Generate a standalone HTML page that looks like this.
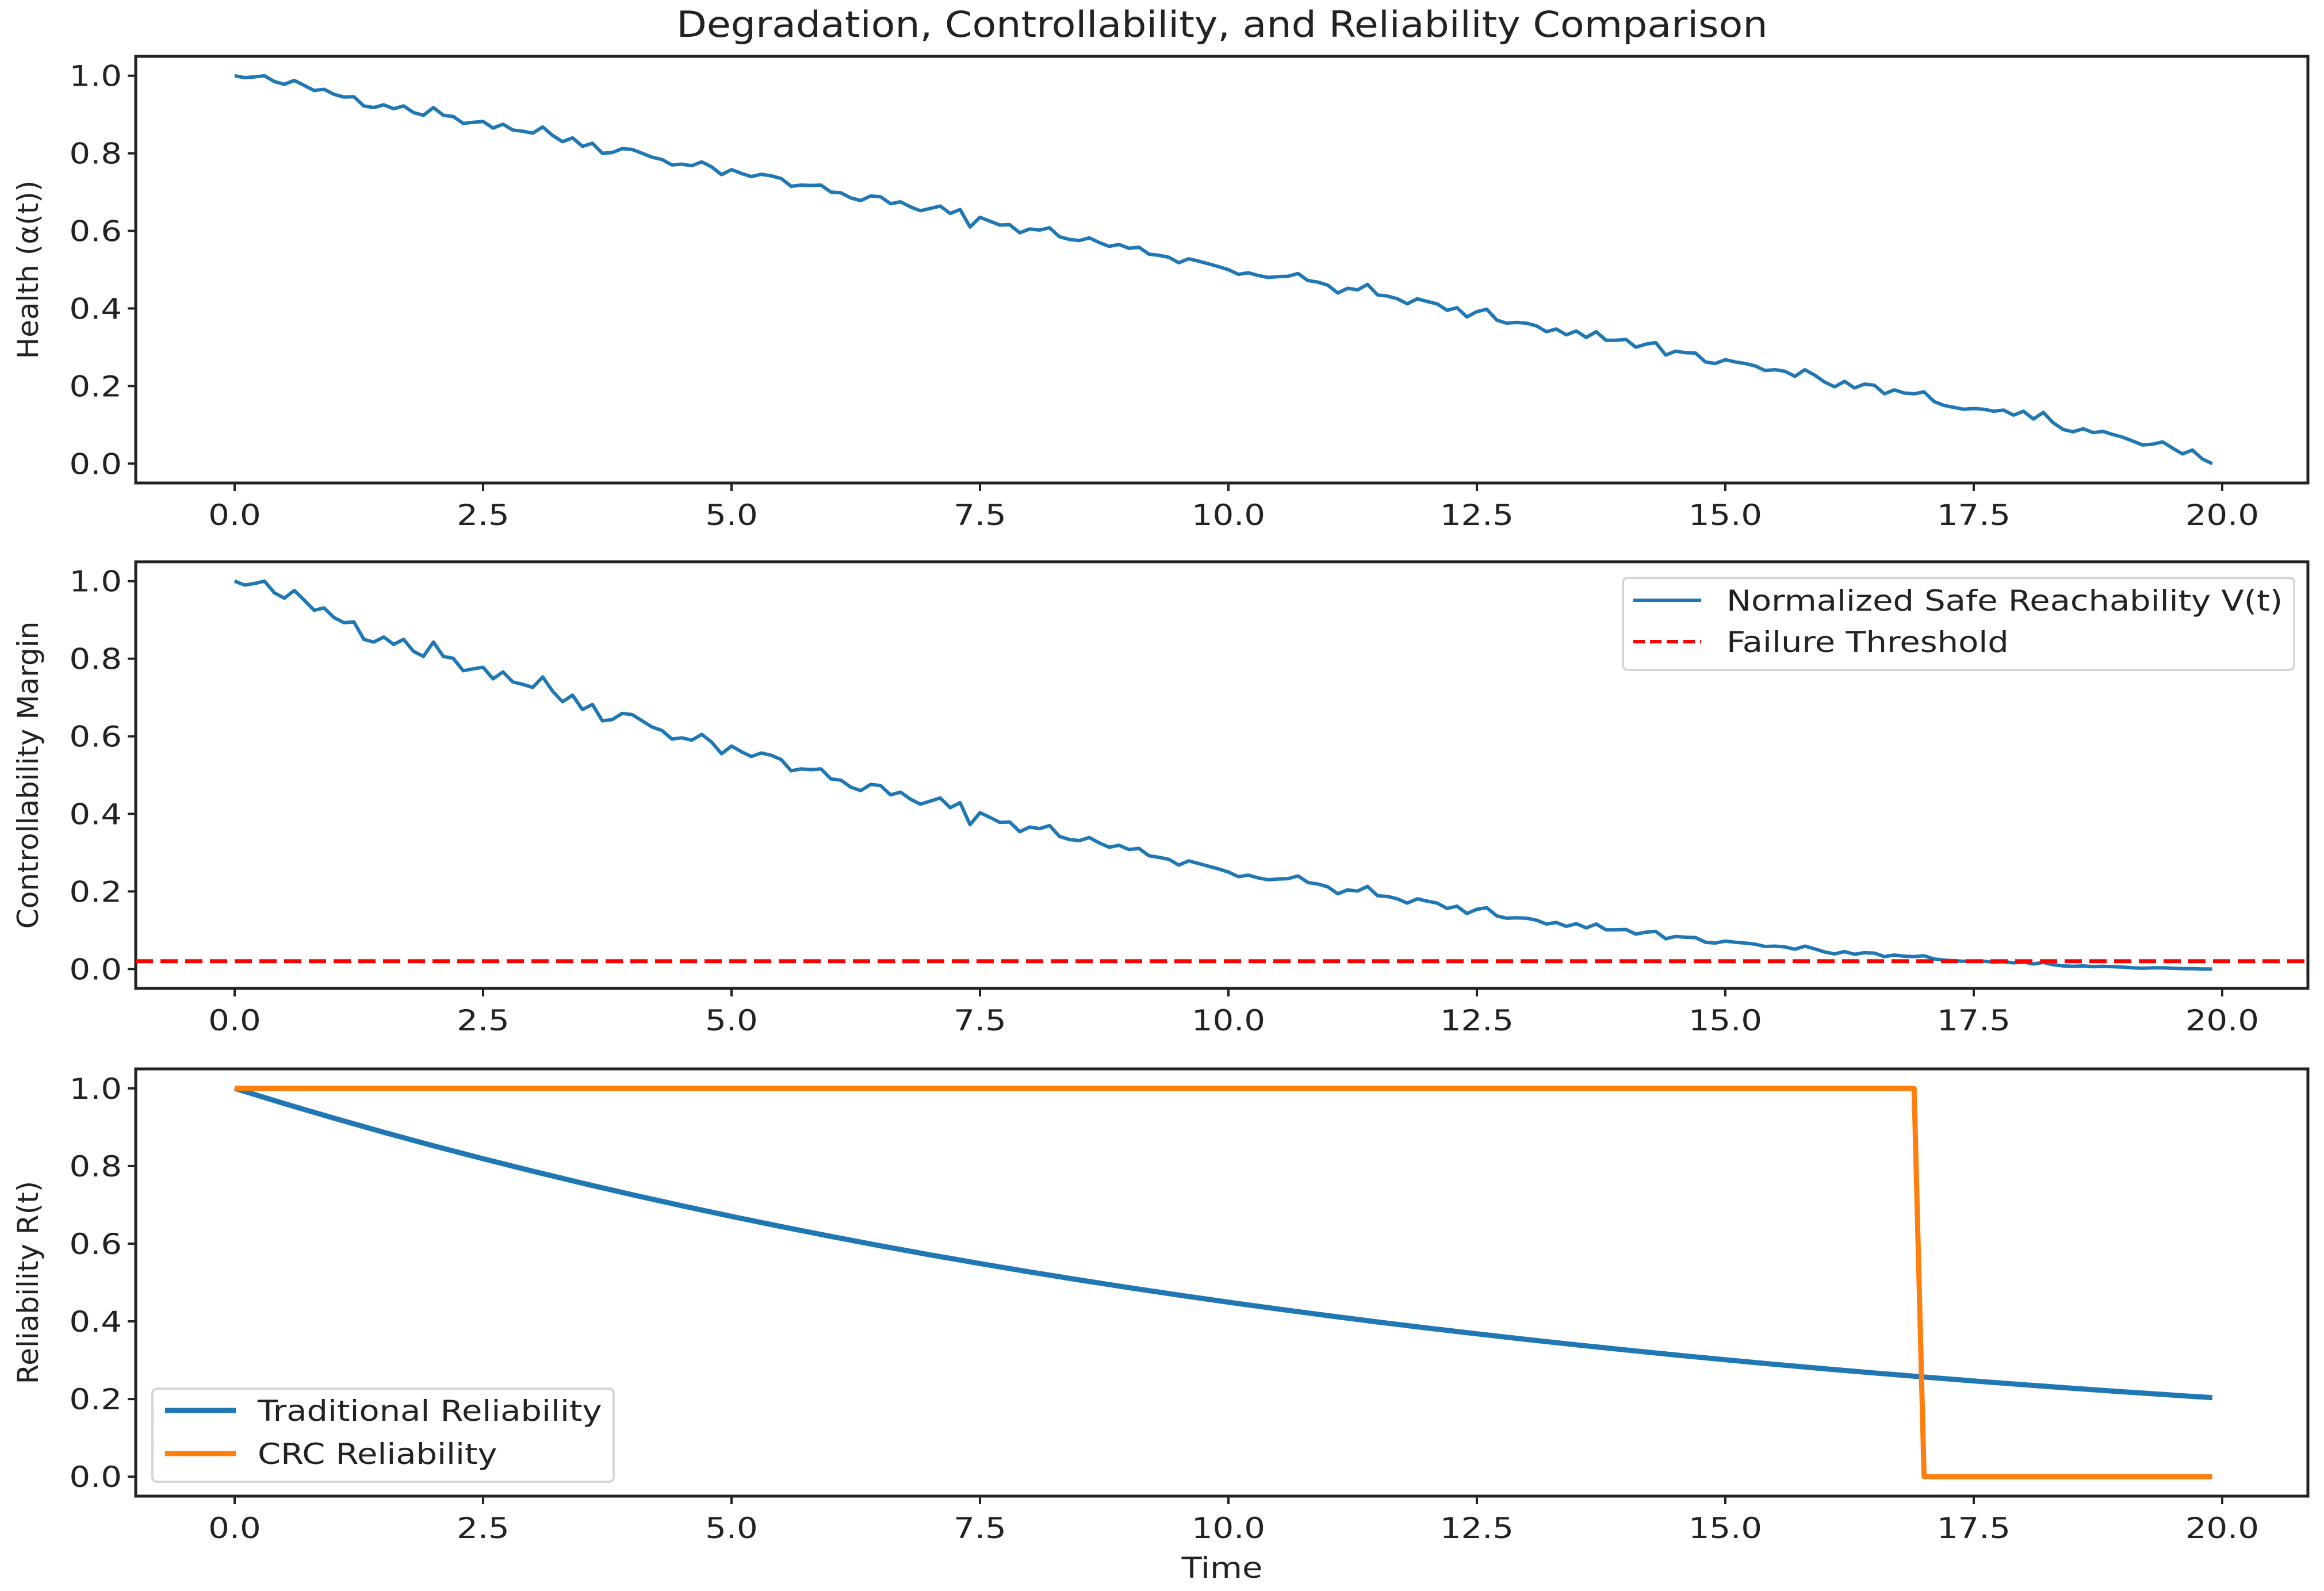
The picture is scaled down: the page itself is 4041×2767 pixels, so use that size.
<!DOCTYPE html>
<html><head><meta charset="utf-8">
<style>
html,body{margin:0;padding:0;background:#fff;}
svg{display:block;}
text{font-family:"DejaVu Sans","Liberation Sans",sans-serif;fill:#222;}
</style></head>
<body>
<svg id="chart" width="4041" height="2767" viewBox="0 0 4041 2767" xmlns="http://www.w3.org/2000/svg">
<rect width="4041" height="2767" fill="#fff"/>
<text x="2125" y="64" font-size="62" text-anchor="middle" transform="translate(2125 64) scale(1.1 1) translate(-2125 -64)">Degradation, Controllability, and Reliability Comparison</text>
<g id="layer"></g>
</svg>
<script>
const health = [
1.000,0.995,0.997,1.000,0.985,0.978,0.988,0.975,0.962,0.965,
0.952,0.945,0.946,0.922,0.918,0.925,0.915,0.922,0.905,0.898,
0.918,0.898,0.895,0.877,0.880,0.882,0.865,0.875,0.860,0.857,
0.852,0.868,0.846,0.830,0.840,0.818,0.826,0.800,0.802,0.812,
0.810,0.800,0.790,0.784,0.770,0.772,0.768,0.778,0.765,0.745,
0.758,0.748,0.740,0.746,0.742,0.735,0.715,0.718,0.717,0.718,
0.700,0.698,0.685,0.678,0.690,0.688,0.670,0.675,0.662,0.652,
0.658,0.664,0.645,0.655,0.610,0.635,0.625,0.615,0.616,0.595,
0.605,0.602,0.608,0.585,0.578,0.575,0.582,0.570,0.560,0.565,
0.555,0.558,0.540,0.537,0.532,0.518,0.528,0.522,0.515,0.508,
0.500,0.488,0.492,0.485,0.480,0.482,0.483,0.490,0.472,0.468,
0.460,0.440,0.452,0.448,0.462,0.435,0.432,0.425,0.412,0.425,
0.418,0.412,0.395,0.402,0.378,0.392,0.398,0.370,0.362,0.364,
0.362,0.355,0.340,0.347,0.332,0.342,0.325,0.340,0.318,0.318,
0.320,0.300,0.308,0.312,0.280,0.290,0.286,0.285,0.262,0.258,
0.268,0.262,0.258,0.252,0.240,0.242,0.238,0.225,0.242,0.228,
0.210,0.198,0.212,0.195,0.205,0.202,0.180,0.190,0.182,0.180,
0.185,0.160,0.150,0.145,0.140,0.142,0.140,0.135,0.138,0.125,
0.135,0.115,0.132,0.105,0.088,0.082,0.090,0.080,0.083,0.075,
0.068,0.058,0.048,0.050,0.056,0.040,0.025,0.035,0.012,0.000];
const margin = [
1.000,0.990,0.994,1.000,0.970,0.956,0.976,0.951,0.925,0.931,
0.906,0.893,0.895,0.850,0.843,0.856,0.837,0.850,0.819,0.806,
0.843,0.806,0.801,0.769,0.774,0.778,0.748,0.766,0.740,0.734,
0.726,0.753,0.716,0.689,0.706,0.669,0.682,0.640,0.643,0.659,
0.656,0.640,0.624,0.615,0.593,0.596,0.590,0.605,0.585,0.555,
0.575,0.560,0.548,0.557,0.551,0.540,0.511,0.516,0.514,0.516,
0.490,0.487,0.469,0.460,0.476,0.473,0.449,0.456,0.438,0.425,
0.433,0.441,0.416,0.429,0.372,0.403,0.391,0.378,0.379,0.354,
0.366,0.362,0.370,0.342,0.334,0.331,0.339,0.325,0.314,0.319,
0.308,0.311,0.292,0.288,0.283,0.268,0.279,0.272,0.265,0.258,
0.250,0.238,0.242,0.235,0.230,0.232,0.233,0.240,0.223,0.219,
0.212,0.194,0.204,0.201,0.213,0.189,0.187,0.181,0.170,0.181,
0.175,0.170,0.156,0.162,0.143,0.154,0.158,0.137,0.131,0.132,
0.131,0.126,0.116,0.120,0.110,0.117,0.106,0.116,0.101,0.101,
0.102,0.090,0.095,0.097,0.078,0.084,0.082,0.081,0.069,0.067,
0.072,0.069,0.067,0.064,0.058,0.059,0.057,0.051,0.059,0.052,
0.044,0.039,0.045,0.038,0.042,0.041,0.032,0.036,0.033,0.032,
0.034,0.026,0.023,0.021,0.020,0.020,0.020,0.018,0.019,0.016,
0.018,0.013,0.017,0.011,0.008,0.007,0.008,0.006,0.007,0.006,
0.005,0.003,0.002,0.003,0.003,0.002,0.001,0.001,0.000,0.000];
const failureThreshold = 0.02;
const tradTimes = [0,0.5,1,1.5,2,2.5,3,3.5,4,4.5,5,5.5,6,6.5,7,7.5,8,8.5,9,9.5,10,10.5,11,11.5,12,12.5,13,13.5,14,14.5,15,15.5,16,16.5,17,17.5,18,18.5,19,19.5,19.9];
const tradRel = [1,.9608,.9231,.8869,.8521,.8187,.7866,.7558,.7261,.6977,.6703,.6440,.6188,.5945,.5712,.5488,.5273,.5066,.4868,.4677,.4493,.4317,.4148,.3985,.3829,.3679,.3535,.3396,.3263,.3135,.3012,.2894,.2780,.2671,.2567,.2466,.2369,.2276,.2187,.2101,.2035];
const crcTimes = [0,16.9,17.0,19.9];
const crcRel = [1,1,0,0];
const xTicks = [0,2.5,5,7.5,10,12.5,15,17.5,20];
const xTickLabels = ["0.0","2.5","5.0","7.5","10.0","12.5","15.0","17.5","20.0"];
const yTicks = [0,0.2,0.4,0.6,0.8,1.0];
const yTickLabels = ["0.0","0.2","0.4","0.6","0.8","1.0"];

const NS="http://www.w3.org/2000/svg";
const layer=document.getElementById('layer');
const SX=1.15;
function mk(tag,attrs,parent){const e=document.createElementNS(NS,tag);for(const k in attrs)e.setAttribute(k,attrs[k]);(parent||layer).appendChild(e);return e;}
function stretch(e,x,y){e.setAttribute('transform',`translate(${x} ${y}) scale(${SX} 1) translate(${-x} ${-y})`);}
const X0=408, X20=3864, LEFT=236, RIGHT=4013;
function xs(t){return X0+(X20-X0)*t/20;}
const panels=[{top:98,bot:840,label:"Health (α(t))",name:"health"},
              {top:977,bot:1719,label:"Controllability Margin",name:"controllability"},
              {top:1859,bot:2602,label:"Reliability R(t)",name:"reliability"}];
function ysF(p){const h=p.bot-p.top;return v=>p.bot-h*(v+0.05)/1.1;}
const times=health.map((_,i)=>i*0.1);

panels.forEach((p,pi)=>{
  const ys=ysF(p);
  const g=mk('g',{});
  
  
  const fr=mk('rect',{x:LEFT,y:p.top,width:RIGHT-LEFT,height:p.bot-p.top,fill:'none',stroke:'#222','stroke-width':5},g);
  
  
  xTicks.forEach((t,i)=>{
    const x=xs(t);
    const tk=mk('line',{x1:x,x2:x,y1:p.bot,y2:p.bot+14,stroke:'#222','stroke-width':4},g);
    
    
    const ty=p.bot+73;
    const tl=mk('text',{x:x,y:ty,'font-size':50,'text-anchor':'middle'},g);
    tl.textContent=xTickLabels[i];
    stretch(tl,x,ty);
    
    
  });
  yTicks.forEach((v,i)=>{
    const y=ys(v);
    const tk=mk('line',{x1:LEFT-14,x2:LEFT,y1:y,y2:y,stroke:'#222','stroke-width':4},g);
    
    
    const tx=LEFT-24, ty=y+18;
    const tl=mk('text',{x:tx,y:ty,'font-size':50,'text-anchor':'end'},g);
    tl.textContent=yTickLabels[i];
    stretch(tl,tx,ty);
    
    
  });
  const cy=(p.top+p.bot)/2;
  const yl=mk('text',{x:0,y:0,'font-size':50,'text-anchor':'middle',transform:`translate(66,${cy}) rotate(-90)`},g);
  yl.textContent=p.label;
  
  
});

function poly(tsArr,vals,p,color,w,name,dash){
  const ys=ysF(p);
  const pts=tsArr.map((t,i)=>xs(t).toFixed(1)+','+ys(vals[i]).toFixed(1)).join(' ');
  const a={points:pts,fill:'none',stroke:color,'stroke-width':w,'stroke-linejoin':'round','stroke-linecap':'butt'};
  if(dash)a['stroke-dasharray']=dash;
  const e=mk('polyline',a);
  
  
  return e;
}
poly(times,health,panels[0],'#1f77b4',6,'health-line');
poly(times,margin,panels[1],'#1f77b4',6,'safe-reachability-line');
{
  const ys=ysF(panels[1]);const y=ys(failureThreshold);
  const e=mk('line',{x1:LEFT,x2:RIGHT,y1:y,y2:y,stroke:'#ff0000','stroke-width':7,'stroke-dasharray':'30,13'});
  
  
}
poly(tradTimes,tradRel,panels[2],'#1f77b4',9,'traditional-reliability-line');
poly(crcTimes,crcRel,panels[2],'#ff7f0e',9,'crc-reliability-line');

function legend(x,y,w,h,items,name){
  const g=mk('g',{});
  
  
  mk('rect',{x:x,y:y,width:w,height:h,rx:8,fill:'#fff','fill-opacity':0.85,stroke:'#d6d6d6','stroke-width':4},g);
  items.forEach(it=>{
    const a={x1:it.lx1,x2:it.lx2,y1:it.y,y2:it.y,stroke:it.color,'stroke-width':it.w};
    if(it.dash)a['stroke-dasharray']=it.dash;
    const l=mk('line',a,g);
    
    
    const t=mk('text',{x:it.tx,y:it.y+18,'font-size':50},g);
    t.textContent=it.text;
    stretch(t,it.tx,it.y+18);
    
    
  });
}
legend(2822,1005,1167,160,[
 {lx1:2840,lx2:2958,y:1044,color:'#1f77b4',w:6,tx:3002,text:'Normalized Safe Reachability V(t)'},
 {lx1:2840,lx2:2958,y:1116,color:'#ff0000',w:6,dash:'20,9',tx:3002,text:'Failure Threshold'}],'controllability-legend');
legend(265,2415,802,162,[
 {lx1:287,lx2:410,y:2453,color:'#1f77b4',w:9,tx:448,text:'Traditional Reliability'},
 {lx1:287,lx2:410,y:2528,color:'#ff7f0e',w:9,tx:448,text:'CRC Reliability'}],'reliability-legend');

const xl=mk('text',{x:2125,y:2744,'font-size':50,'text-anchor':'middle'});
xl.textContent='Time';
stretch(xl,2125,2744);


</script>
</body></html>
